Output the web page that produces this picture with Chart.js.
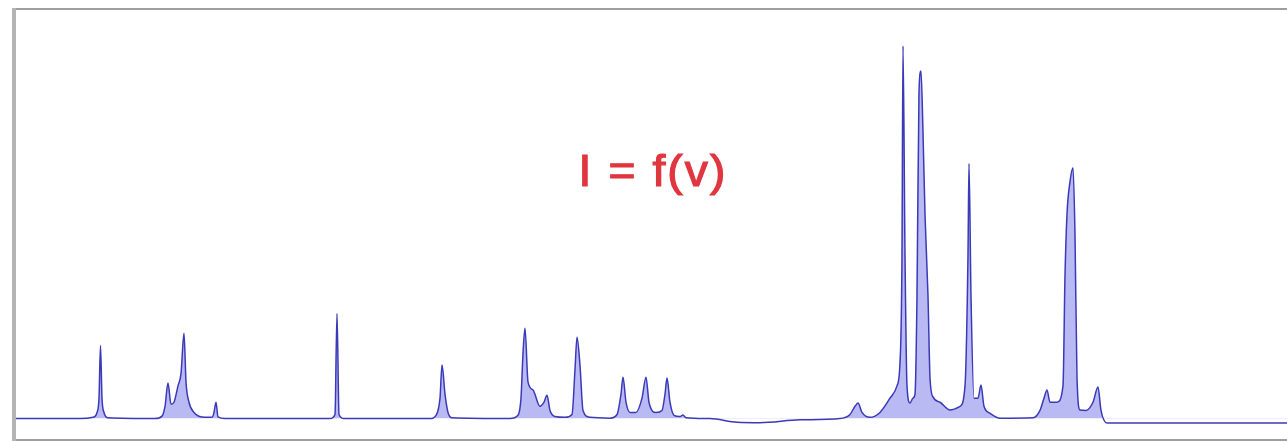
<!DOCTYPE html>
<html>
<head>
<meta charset="utf-8">
<script src="https://cdn.jsdelivr.net/npm/chart.js@4/dist/chart.umd.min.js"></script>
<style>
    body { margin: 0; background: #ffffff; }
    #wrap { position: relative; width: 1287px; height: 441px; }
</style>
</head>
<body>
<div id="wrap"><canvas id="spectrumChart"></canvas></div>
<script>
// frequency (nu) positions
const nu = [
    16, 80, 93, 97, 99, 100.5, 102, 104, 108,
    155, 162, 165, 168, 171, 174, 178, 181, 184, 186, 189, 194, 205,
    212, 214, 216, 218, 225,
    330, 335, 337, 339, 344,
    430, 436, 440, 442, 445, 448, 452,
    510, 518, 521, 523, 525, 528, 533, 540, 544, 547, 550, 555,
    565, 572, 575, 577, 580, 583, 590,
    610, 617, 621, 623, 626, 630, 636, 642, 646, 649, 656, 662, 665, 667, 670, 674, 680, 683, 686,
    710, 737, 760, 800, 840, 850, 855, 858, 862, 870,
    880, 890, 897, 900, 902, 903, 905, 907, 910,
    913, 915, 917, 919, 921, 923, 925, 928, 930, 933, 940, 950,
    960, 965, 968, 969, 971, 974, 978, 981, 984, 990, 1000,
    1033, 1040, 1044, 1047, 1050, 1057, 1063, 1065, 1067, 1070, 1073, 1075, 1077, 1080,
    1086, 1093, 1098, 1101, 1107, 1287
];
// intensity I at each nu
const intensity = [
    0, 0, 0.3, 1.5, 5, 17.9, 5, 1.5, 0.2,
    0, 0.6, 3, 8.7, 3.5, 4, 8, 11, 20.9, 9, 4, 1.5, 0.3,
    0.3, 1.5, 4.0, 0.4, 0,
    0, 1, 25.7, 1, 0,
    0, 0.8, 5, 13.1, 6, 1.5, 0.2,
    0, 0.8, 5, 16, 22.1, 9, 7.0, 3, 4, 5.7, 2, 0.5,
    0.3, 1, 12, 19.9, 13, 2, 0.3,
    0.1, 1, 6, 10.1, 4, 1.5, 1.5, 5, 10.1, 4, 1.5, 2, 6, 9.9, 4, 0.8, 0.5, 0.9, 0.2,
    0, -0.9, -1.0, -0.3, 0, 1, 3.0, 3.8, 1.5, 0.3,
    1.5, 5, 8, 13.6, 40, 91.2, 40, 8, 3.8,
    5, 6, 30, 80, 85.1, 70, 50, 30, 10, 5.3, 4, 2.1,
    3, 8, 40, 62.4, 30, 5, 5, 8.2, 3, 1.3, 0.1,
    0.2, 2, 5, 7.0, 4, 4, 8, 35, 50, 58, 61.4, 45, 10, 2.1,
    2, 4, 7.7, 2, -1.1, -1.1
];

const labelText = "I = f(v)";
const labelAt = { x: 653, y: 60 };

const framePlugin = {
    id: "frame",
    afterDraw(chart) {
        const { ctx, chartArea } = chart;
        ctx.save();
        ctx.fillStyle = "#9e9e9e";
        ctx.fillRect(chartArea.left - 4, chartArea.top - 2, chartArea.right - chartArea.left + 4, 2);
        ctx.fillRect(chartArea.left - 4, chartArea.bottom, chartArea.right - chartArea.left + 4, 2);
        ctx.fillStyle = "#b4b4b4";
        ctx.fillRect(chartArea.left - 4, chartArea.top - 2, 4, chartArea.bottom - chartArea.top + 4);

        const px = chart.scales.x.getPixelForValue(labelAt.x);
        const py = chart.scales.y.getPixelForValue(labelAt.y);
        ctx.translate(px, py);
        ctx.scale(1.05, 1);
        ctx.fillStyle = "#e0363f";
        ctx.strokeStyle = "#e0363f";
        ctx.lineWidth = 1.2;
        ctx.font = "44px 'Liberation Sans', Arial, sans-serif";
        ctx.letterSpacing = "2px";
        ctx.textAlign = "center";
        ctx.textBaseline = "middle";
        ctx.fillText(labelText, 0, 0);
        ctx.strokeText(labelText, 0, 0);
        ctx.restore();
    }
};

function initializeChart() {
    const ctx = document.getElementById("spectrumChart");
    new Chart(ctx, {
        type: "line",
        data: {
            datasets: [{
                label: "I",
                data: nu.map((v, i) => ({ x: v, y: intensity[i] })),
                borderColor: "#3a3ab8",
                borderWidth: 1.5,
                fill: { target: { value: 0 }, above: "rgba(80, 80, 225, 0.4)", below: "rgba(0, 0, 0, 0)" },
                pointRadius: 0,
                cubicInterpolationMode: "monotone"
            }]
        },
        options: {
            responsive: true,
            maintainAspectRatio: false,
            animation: false,
            layout: { padding: { left: 16, top: 10, right: 0, bottom: 2 } },
            scales: {
                x: { type: "linear", min: 16, max: 1287, display: false },
                y: { min: -5, max: 100, display: false }
            },
            plugins: {
                legend: { display: false },
                tooltip: { enabled: false }
            }
        },
        plugins: [framePlugin]
    });
}

document.addEventListener("DOMContentLoaded", initializeChart);
</script>
</body>
</html>
